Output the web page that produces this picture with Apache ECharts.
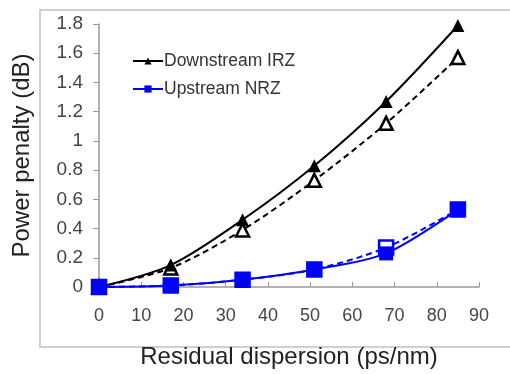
<!DOCTYPE html>
<html><head><meta charset="utf-8">
<script src="https://cdn.jsdelivr.net/npm/echarts@6/dist/echarts.min.js"></script>
<style>html,body{margin:0;padding:0;background:#fff}#c{width:510px;height:374px}</style>
</head><body><div id="c"></div>
<script>
const dispersion = [0, 17, 34, 51, 68, 85];
const downIRZSolid = [0, 0.15, 0.46, 0.83, 1.27, 1.79];
const downIRZDashed = [0, 0.13, 0.39, 0.73, 1.12, 1.57];
const upNRZSolid = [0, 0.01, 0.05, 0.12, 0.23, 0.53];
const upNRZDashed = [0, 0.01, 0.05, 0.12, 0.27, 0.53];
const legendNames = ['Downstream IRZ', 'Upstream NRZ'];
const xTitle = 'Residual dispersion (ps/nm)';
const yTitle = 'Power penalty (dB)';

const pts = ys => dispersion.map((x, i) => [x, ys[i]]);
const font = 'Liberation Sans, Arial, sans-serif';
const chart = echarts.init(document.getElementById('c'), null, {renderer: 'canvas'});
chart.setOption({
  animation: false,
  backgroundColor: '#fff',
  graphic: [{type: 'rect', shape: {x: 40, y: 10, width: 480, height: 337},
    style: {fill: 'none', stroke: '#d0d0d0', lineWidth: 2}, silent: true, z: -1}],
  grid: {left: 99, right: 31, top: 24, bottom: 83},
  legend: {
    data: legendNames, orient: 'vertical', left: 127, top: 47, itemGap: 10,
    itemWidth: 30, itemHeight: 9,
    textStyle: {fontFamily: font, fontSize: 17.5, color: '#333', padding: [0, 0, 0, -4]}
  },
  xAxis: {
    type: 'value', min: 0, max: 90, interval: 10,
    name: xTitle, nameLocation: 'middle', nameGap: 58,
    nameTextStyle: {fontFamily: font, fontSize: 24, color: '#222'},
    axisLine: {lineStyle: {color: '#999', width: 1.5}},
    axisTick: {inside: true, length: 5, lineStyle: {color: '#999'}},
    axisLabel: {fontFamily: font, fontSize: 18, color: '#444', margin: 20},
    splitLine: {show: false}
  },
  yAxis: {
    type: 'value', min: 0, max: 1.8, interval: 0.2,
    name: yTitle, nameLocation: 'middle', nameGap: 65, nameRotate: 90,
    nameTextStyle: {fontFamily: font, fontSize: 24, color: '#222'},
    axisLine: {show: true, lineStyle: {color: '#999', width: 1.5}},
    axisTick: {show: true, length: 6, lineStyle: {color: '#999'}},
    axisLabel: {fontFamily: font, fontSize: 19, color: '#444', margin: 16},
    splitLine: {show: false}
  },
  series: [
    {name: 'Downstream IRZ', type: 'line', data: pts(downIRZSolid), smooth: 0.3,
      symbol: 'triangle', symbolSize: 13, lineStyle: {color: '#000', width: 2},
      itemStyle: {color: '#000'}, z: 3},
    {name: 'Downstream IRZ dashed', type: 'line', data: pts(downIRZDashed), smooth: 0.3,
      symbol: 'triangle', symbolSize: 13, lineStyle: {color: '#000', width: 2, type: [6, 4]},
      itemStyle: {color: '#fff', borderColor: '#000', borderWidth: 2.5}, z: 2},
    {name: 'Upstream NRZ dashed', type: 'line', data: pts(upNRZDashed), smooth: 0.3,
      symbol: 'rect', symbolSize: 14, lineStyle: {color: '#0000ff', width: 2, type: [6, 4]},
      itemStyle: {color: '#fff', borderColor: '#0000ff', borderWidth: 2.5}, z: 2},
    {name: 'Upstream NRZ', type: 'line', data: pts(upNRZSolid), smooth: 0.3,
      symbol: 'rect', symbolSize: 14, lineStyle: {color: '#0000ff', width: 2},
      itemStyle: {color: '#0000ff'}, z: 3}
  ]
});
</script></body></html>
